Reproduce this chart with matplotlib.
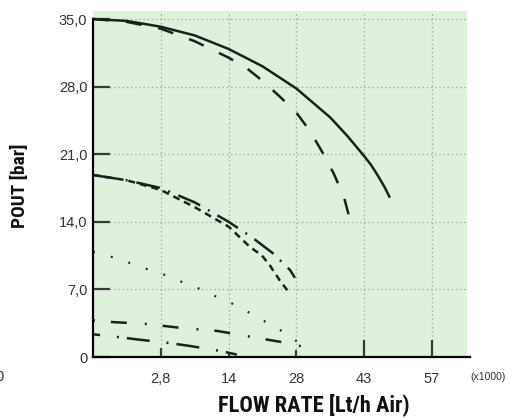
import numpy as np
import matplotlib
matplotlib.use('Agg')
import matplotlib.pyplot as plt
from matplotlib import font_manager as fm

# ---------------- data ----------------
x_ticks = [2.8, 14, 28, 43, 57]
x_tick_labels = ['2,8', '14', '28', '43', '57']
y_ticks = [0, 7, 14, 21, 28, 35]
y_tick_labels = ['0', '7,0', '14,0', '21,0', '28,0', '35,0']

# flow in x1000 Lt/h, pressure in bar
solid_x = [0, 1.4, 2.8, 8.4, 14, 21, 28, 31.75, 35.5, 39.25, 43, 44.4, 45.8, 47.2, 48.3]
solid_y = [35.0, 34.8, 34.2, 33.3, 31.9, 30.1, 27.8, 26.3, 24.8, 22.9, 20.8, 19.9, 18.8, 17.6, 16.5]

dash_x = [0, 1.4, 2.8, 8.4, 14, 17.5, 21, 24.5, 28, 31, 34, 36.25, 38.5, 40.3]
dash_y = [35.0, 34.7, 34.0, 32.7, 31.0, 30.0, 28.6, 27.0, 25.3, 23.4, 21.0, 19.0, 16.6, 13.4]

dashdot_x = [0, 1.4, 2.8, 8.45, 14, 18.8, 23.0, 26.7, 27.7]
dashdot_y = [18.85, 18.3, 17.5, 16.0, 14.0, 12.4, 10.8, 9.0, 8.2]

short_x = [0, 1.4, 2.8, 8.45, 14, 18.4, 20.9, 22.5, 24.6, 26.3]
short_y = [18.85, 18.3, 17.3, 15.5, 13.5, 11.4, 10.5, 9.5, 7.9, 6.8]

dot_x = [0, 0.78, 1.53, 2.23, 3.5, 6.3, 9.3, 12.1, 14.9, 18.4, 21.7, 25.0, 28.3]
dot_y = [10.9, 10.36, 9.73, 9.11, 8.49, 7.77, 7.04, 6.21, 5.49, 4.56, 3.62, 2.69, 1.55]

lowa_x = [0, 0.78, 2.23, 6.3, 12.1, 18.8, 26.1, 29.7]
lowa_y = [3.8, 3.62, 3.42, 3.0, 2.7, 2.07, 1.45, 1.04]

lowb_x = [0, 1.03, 1.86, 4.16, 7.63, 12.7, 15.7]
lowb_y = [2.35, 2.07, 1.81, 1.45, 1.14, 0.62, 0.25]

# axis scale: tick categories are equally spaced
scale_flow = [0, 2.8, 14, 28, 43, 57, 71]
scale_pos = [0, 1, 2, 3, 4, 5, 6]


def fwd(x):
    return np.interp(x, scale_flow, scale_pos)


def inv(p):
    return np.interp(p, scale_pos, scale_flow)


# pick the narrowest available bold family for axis titles
installed = {(f.name, f.stretch) for f in fm.fontManager.ttflist}
names = {f.name for f in fm.fontManager.ttflist}
lab_family, lab_stretch = 'DejaVu Sans', 'normal'
for cand in ['Roboto Condensed', 'Liberation Sans Narrow', 'Open Sans Condensed',
             'Noto Sans Condensed', 'DejaVu Sans Condensed']:
    if cand in names:
        lab_family = cand
        break
else:
    if any(n == 'DejaVu Sans' and s not in ('normal', 500) for n, s in installed):
        lab_stretch = 'condensed'

# ---------------- figure ----------------
plt.rcParams['lines.scale_dashes'] = False
W, H = 522, 419
fig = plt.figure(figsize=(W / 100, H / 100), dpi=100)
ax = fig.add_axes([93 / W, 1 - 357 / H, (467 - 93) / W, (357 - 11) / H])
ax.set_facecolor('#dff0dd')
ax.set_xscale('function', functions=(fwd, inv))
ax.set_xlim(0, inv(5.516))
ax.set_ylim(0, 35.83)

lc = '#1b211b'
lw = 1.8
ax.plot(solid_x, solid_y, color=lc, lw=lw, solid_capstyle='butt')
ax.plot(dash_x, dash_y, color=lc, lw=lw, linestyle=(0, (11.5, 12.2)))
ax.plot(dashdot_x, dashdot_y, color=lc, lw=lw, linestyle=(0, (17.3, 6.5, 1.4, 6.5)))
ax.plot(short_x, short_y, color=lc, lw=lw, linestyle=(0, (5.0, 3.6)))
ax.plot(dot_x, dot_y, color=lc, lw=lw * 0.85, linestyle=(0, (1.4, 11.9)))
ax.plot(lowa_x, lowa_y, color=lc, lw=lw, linestyle=(0, (1.4, 11.5, 11.5, 13.0)))
ax.plot(lowb_x, lowb_y, color=lc, lw=lw, linestyle=(11.5, (16.6, 12.2, 1.4, 5.8)))

# grid
gcol = '#9fab9f'
for xv in x_ticks:
    ax.axvline(xv, color=gcol, lw=0.9, linestyle=(0, (1, 2)), zorder=0.5)
for yv in y_ticks[1:]:
    ax.axhline(yv, color=gcol, lw=0.9, linestyle=(0, (1, 2)), zorder=0.5)

# spines
for s in ['top', 'right']:
    ax.spines[s].set_visible(False)
ax.spines['left'].set_linewidth(1.6)
ax.spines['bottom'].set_linewidth(1.6)
ax.spines['left'].set_bounds(0, 35)
ax.spines['bottom'].set_bounds(0, inv(5.56))

tick_font = dict(family=['Liberation Sans', 'DejaVu Sans'], size=10.5, color='#333333')
ax.set_yticks(y_ticks)
ax.set_yticklabels(y_tick_labels, **tick_font)
ax.set_xticks(x_ticks)
ax.set_xticklabels(x_tick_labels, **tick_font)
ax.minorticks_off()
ax.tick_params(axis='y', direction='in', length=12.2, width=1.6, color='#3a3a3a', pad=4)
ax.tick_params(axis='x', direction='in', length=12.2, width=1.6, color='#3a3a3a', pad=11)
xtick_len = [6.5, 3.6, 5.0, 12.2, 12.2]
for t, L in zip(ax.xaxis.get_major_ticks(), xtick_len):
    t.tick1line.set_markersize(L)

# extra texts
fig.text(470 / W, 1 - 377 / H, '(x1000)', ha='left', va='center',
         family=['Liberation Sans', 'DejaVu Sans'], size=7.5, color='#333333')
fig.text(0.0, 1 - 377 / H, '0', ha='center', va='center',
         family=['Liberation Sans', 'DejaVu Sans'], size=10.5, color='#333333')

xl = fig.text(314 / W, 1 - 405 / H, 'FLOW RATE [Lt/h Air)', ha='center', va='center',
              family=[lab_family, 'DejaVu Sans'], stretch=lab_stretch,
              weight='bold', size=15, color='#111111')
yl = fig.text(20 / W, 1 - 186 / H, 'POUT [bar]', ha='center', va='center', rotation=90,
              family=[lab_family, 'DejaVu Sans'], stretch=lab_stretch,
              weight='bold', size=12.5, color='#111111')

# fit title lengths to the reference (x: ~190 px, y: ~84 px)
renderer = fig.canvas.get_renderer()
for txt, target, horiz in [(xl, 192, True), (yl, 84, False)]:
    bb = txt.get_window_extent(renderer)
    cur = bb.width if horiz else bb.height
    txt.set_fontsize(min(17, txt.get_fontsize() * target / cur))

fig.savefig('out.png', dpi=100)
